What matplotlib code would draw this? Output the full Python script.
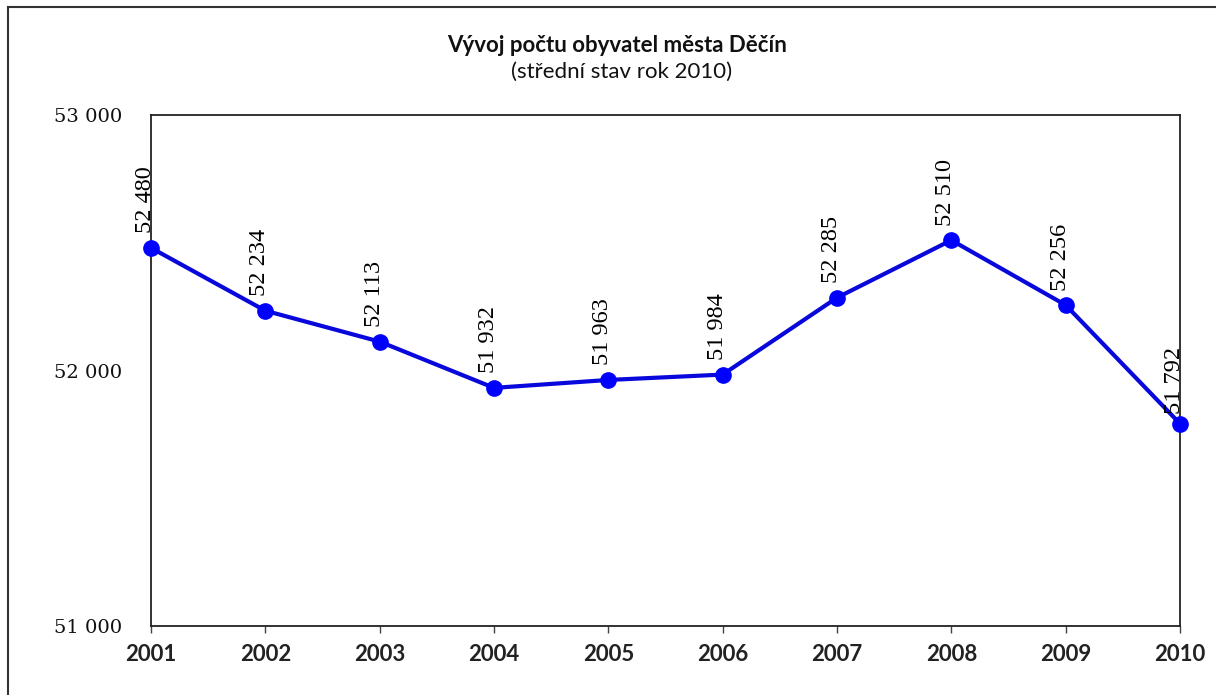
import matplotlib.pyplot as plt
from matplotlib.lines import Line2D

years = ["2001", "2002", "2003", "2004", "2005", "2006", "2007", "2008", "2009", "2010"]
population = [52480, 52234, 52113, 51932, 51963, 51984, 52285, 52510, 52256, 51792]
y_ticks = [51000, 52000, 53000]
y_labels = ["51 000", "52 000", "53 000"]

title = "Vývoj počtu obyvatel města Děčín"
subtitle = "(střední stav rok 2010)"

W, H = 1216, 695
fig = plt.figure(figsize=(W / 100, H / 100), dpi=100)
ax = fig.add_axes([151 / W, 1 - 626 / H, (1180 - 151) / W, (626 - 115) / H])

x = list(range(len(years)))
ax.plot(x, population, color="#0808dc", lw=3, marker="o", markersize=11,
        markerfacecolor="#0000ff", markeredgecolor="#0000ff", zorder=3, clip_on=False)

# data labels, rotated, above each point
for xi, v in zip(x, population):
    label = f"{v // 1000} {v % 1000:03d}"
    off = 7 if xi == len(x) - 1 else 10.5
    ax.annotate(label, (xi, v), xytext=(0, off), textcoords="offset points",
                rotation=90, rotation_mode="anchor", ha="left", va="baseline",
                fontsize=17.5, family="Liberation Serif", color="black")

ax.set_xlim(0, len(years) - 1)
ax.set_ylim(51000, 53000)
ax.set_xticks(x)
ax.set_xticklabels(years, fontsize=16, family="Lato", fontweight="bold", color="#222222")
ax.set_yticks(y_ticks)
ax.set_yticklabels(y_labels, fontsize=14, family="DejaVu Serif", color="#111111")
ax.tick_params(axis="x", length=5, width=1, color="#444444", pad=8)
ax.tick_params(axis="y", length=0, pad=21)
for s in ax.spines.values():
    s.set_color("#222222")
    s.set_linewidth(1.3)

fig.text(617 / W, 1 - 45 / H, title, ha="center", va="center", fontsize=16,
         family="Lato", fontweight="bold", color="#111111")
fig.text(622 / W, 1 - 72 / H, subtitle, ha="center", va="center", fontsize=16,
         family="Lato", color="#111111")

# outer chart frame (left and top edges visible)
fig.add_artist(Line2D([8 / W, 8 / W], [0, 1 - 7 / H], color="#333333", lw=1.5))
fig.add_artist(Line2D([8 / W, 1], [1 - 7 / H, 1 - 7 / H], color="#333333", lw=1.5))

fig.savefig("out.png", dpi=100)
